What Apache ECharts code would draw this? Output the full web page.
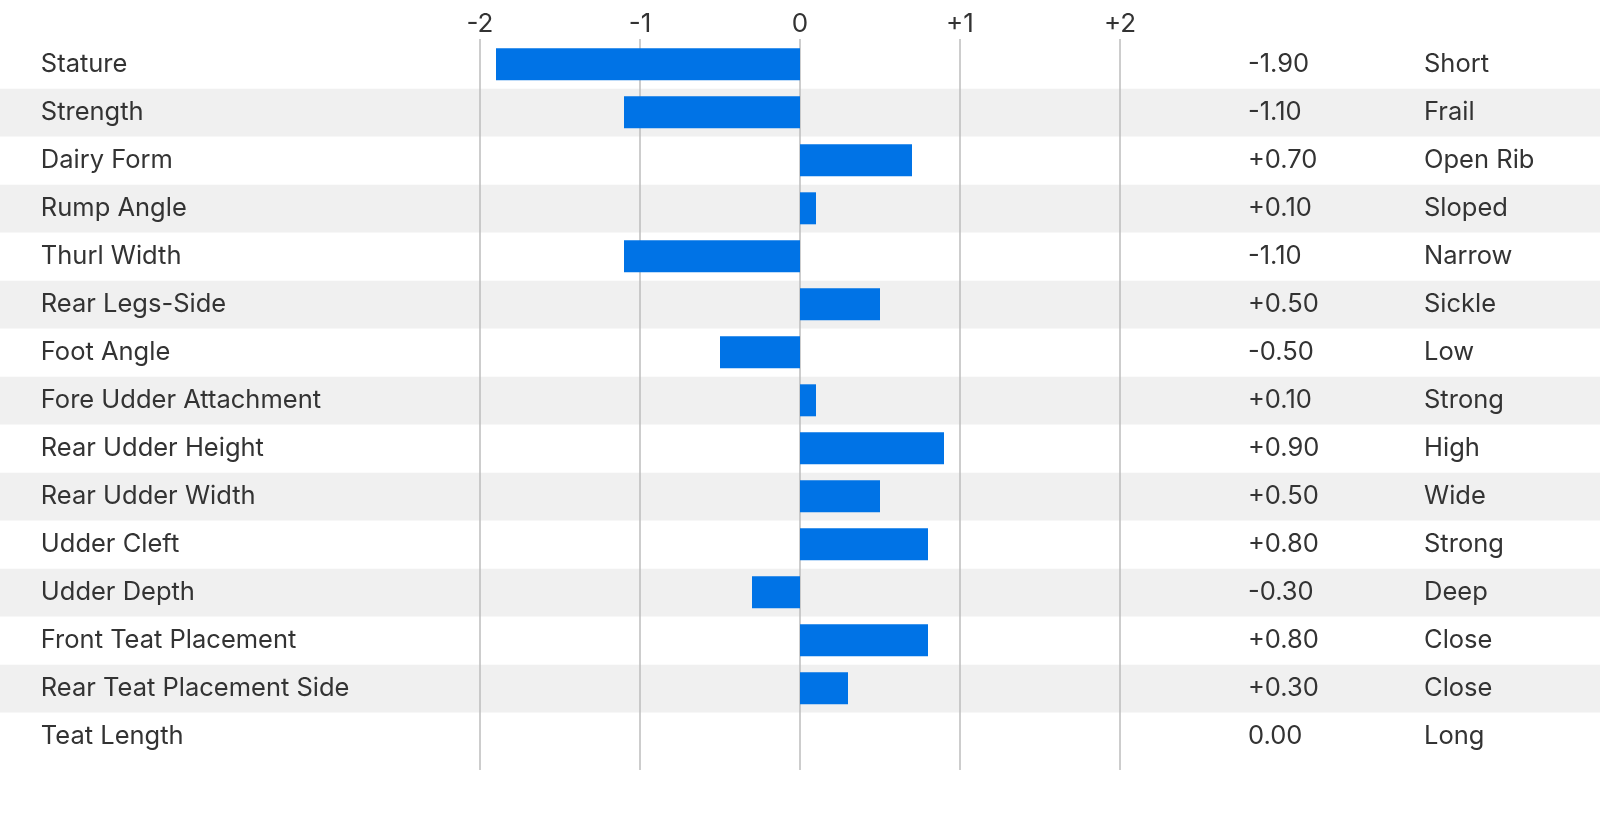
<!DOCTYPE html>
<html><head><meta charset="utf-8">
<script src="https://cdn.jsdelivr.net/npm/echarts@6/dist/echarts.min.js"></script>
<style>html,body{margin:0;padding:0;background:#fff}#c{width:1600px;height:836px}</style>
</head><body><div id="c"></div>
<script>
const traits = ['Stature','Strength','Dairy Form','Rump Angle','Thurl Width','Rear Legs-Side','Foot Angle','Fore Udder Attachment','Rear Udder Height','Rear Udder Width','Udder Cleft','Udder Depth','Front Teat Placement','Rear Teat Placement Side','Teat Length'];
const values = [-1.9,-1.1,0.7,0.1,-1.1,0.5,-0.5,0.1,0.9,0.5,0.8,-0.3,0.8,0.3,0.0];
const descriptors = ['Short','Frail','Open Rib','Sloped','Narrow','Sickle','Low','Strong','High','Wide','Strong','Deep','Close','Close','Long'];
const tickValues = [-2,-1,0,1,2];

const FONT = 'Inter, "Noto Sans", sans-serif';
const TXT = '#333333';
const fmtSigned = v => v > 0 ? '+' + v.toFixed(2) : v.toFixed(2);
const fmtTick = v => v > 0 ? '+' + v : String(v);

const chart = echarts.init(document.getElementById('c'), null, {renderer:'canvas'});
const rowTop = 40.8, rowH = 720, L = 480, W = 640;
const labelStyle = {fontFamily:FONT, fontSize:25.5, color:TXT, padding:[0,0,9,0]};
chart.setOption({
  animation:false,
  backgroundColor:'#ffffff',
  grid:[
    {left:0, right:0, top:rowTop, height:rowH},
    {left:L, width:W, top:39, height:731},
    {left:L, width:W, top:rowTop - 0.5, height:rowH}
  ],
  xAxis:[
    {gridIndex:0, type:'value', show:false, min:0, max:1},
    {gridIndex:1, type:'value', min:tickValues[0], max:tickValues[tickValues.length-1], interval:1, position:'top',
     axisLine:{show:false}, axisTick:{show:false},
     axisLabel:{formatter:fmtTick, fontFamily:FONT, fontSize:26, color:TXT, margin:2},
     splitLine:{show:true, lineStyle:{color:'#bdbdbd', width:1.5}}},
    {gridIndex:2, type:'value', show:false, min:-2, max:2}
  ],
  yAxis:[
    {gridIndex:0, type:'category', data:traits, inverse:true, axisLine:{show:false}, axisTick:{show:false}, axisLabel:{show:false},
     splitArea:{show:true, areaStyle:{color:['#ffffff','#f0f0f0']}}, splitLine:{show:false}},
    {gridIndex:1, type:'value', show:false},
    {gridIndex:2, type:'category', data:traits, inverse:true, position:'left', axisLine:{show:false}, axisTick:{show:false},
     axisLabel:Object.assign({align:'left', margin:L-40.8}, labelStyle)},
    {gridIndex:2, type:'category', data:values.map(fmtSigned), inverse:true, position:'right', axisLine:{show:false}, axisTick:{show:false},
     axisLabel:Object.assign({align:'left', margin:128}, labelStyle)},
    {gridIndex:2, type:'category', data:descriptors, inverse:true, position:'right', offset:304, axisLine:{show:false}, axisTick:{show:false},
     axisLabel:Object.assign({align:'left', margin:0}, labelStyle)}
  ],
  series:[
    {type:'bar', xAxisIndex:2, yAxisIndex:2, data:values, barWidth:32, itemStyle:{color:'#0073e6'}, z:5}
  ]
});
</script></body></html>
